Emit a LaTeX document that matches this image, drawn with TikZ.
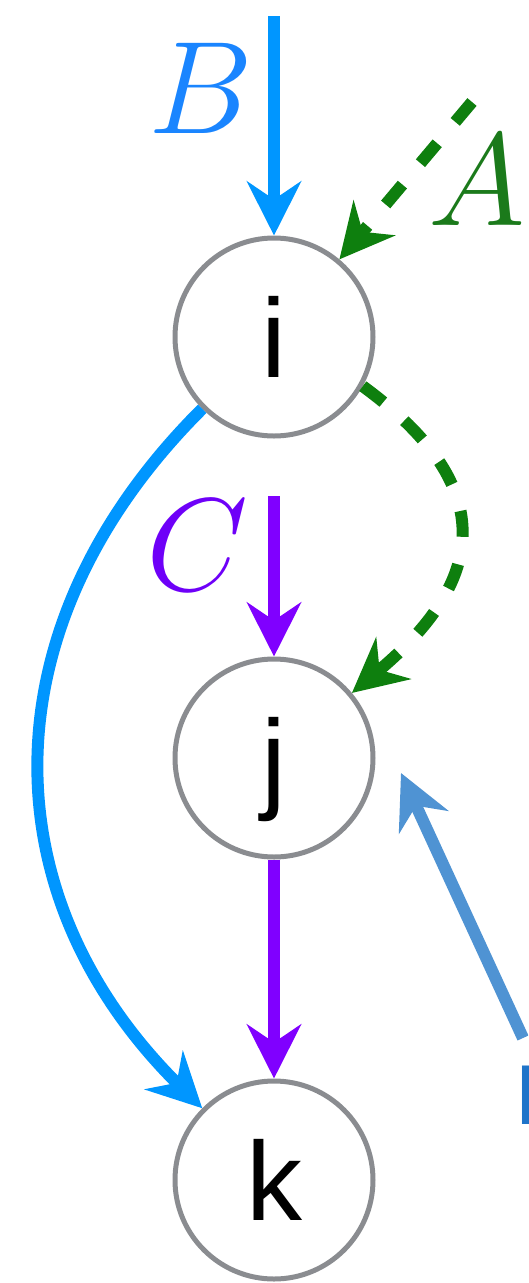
\RequirePackage{fix-cm}
\documentclass[tikz,border=0pt]{standalone}
\usepackage{fontspec}
\newfontfamily\arialf{Liberation Sans}
\usetikzlibrary{arrows.meta}
\definecolor{cB}{HTML}{0096FF}
\definecolor{cBl}{HTML}{1A85FF}
\definecolor{cG}{HTML}{0E7F0E}
\definecolor{cGl}{HTML}{1B7A1B}
\definecolor{cP}{HTML}{8000FF}
\definecolor{cPl}{HTML}{6E00F8}
\definecolor{cL}{HTML}{4F93D3}
\definecolor{cD}{HTML}{1F74C9}
\definecolor{cgray}{HTML}{8A8C90}
\begin{document}
\begin{tikzpicture}[x=1pt,y=-1pt,
  vnode/.style={circle,draw=cgray,line width=5pt,minimum size=198pt,inner sep=0pt,
    font=\arialf\fontsize{112pt}{112pt}\selectfont,text height=80pt,text depth=0pt},
  lab/.style={anchor=base west,inner sep=0pt,font=\fontsize{132pt}{132pt}\selectfont},
  edge/.style={line width=12pt,-{Stealth[length=54pt,width=54pt,inset=18pt]}},
  dashedge/.style={edge,dash pattern=on 26pt off 28pt}
]
\useasboundingbox (0,0) rectangle (528,1283);
\clip (0,0) rectangle (528,1283);

\node[vnode] (i) at (274,337) {i};
\node[vnode] (j) at (274,758) {j};
\node[vnode] (k) at (274,1180) {k};

\node[lab,text=cBl] (lB) at (148,133) {$B$};
\node[lab,text=cGl] (lA) at (428,225) {$A$};
\node[lab,text=cPl] (lC) at (146,590) {$C$};
\node[anchor=base west,inner sep=0pt,text=cD,font=\arialf\fontsize{85pt}{85pt}\selectfont] (lD) at (515,1124) {D};

\coordinate (Bs) at (274,16);
\coordinate (Cs) at (274,496);
\coordinate (As) at (472,102);
\coordinate (Ls) at (523,1038);
\coordinate (Lt) at (401,773);

\draw[edge,cB] (Bs) -- (i);
\draw[edge,cP] (Cs) -- (j);
\draw[edge,cP] (j) -- (k);
\draw[dashedge,cG] (As) -- (i);
\draw[edge,cB] (i.225) .. controls (-12,622) and (-15,893) .. (k.135);
\draw[dashedge,cG] (i.-29) .. controls (495,483) and (492,576) .. (j);
\draw[edge,cL] (Ls) -- (Lt);
\end{tikzpicture}
\end{document}
